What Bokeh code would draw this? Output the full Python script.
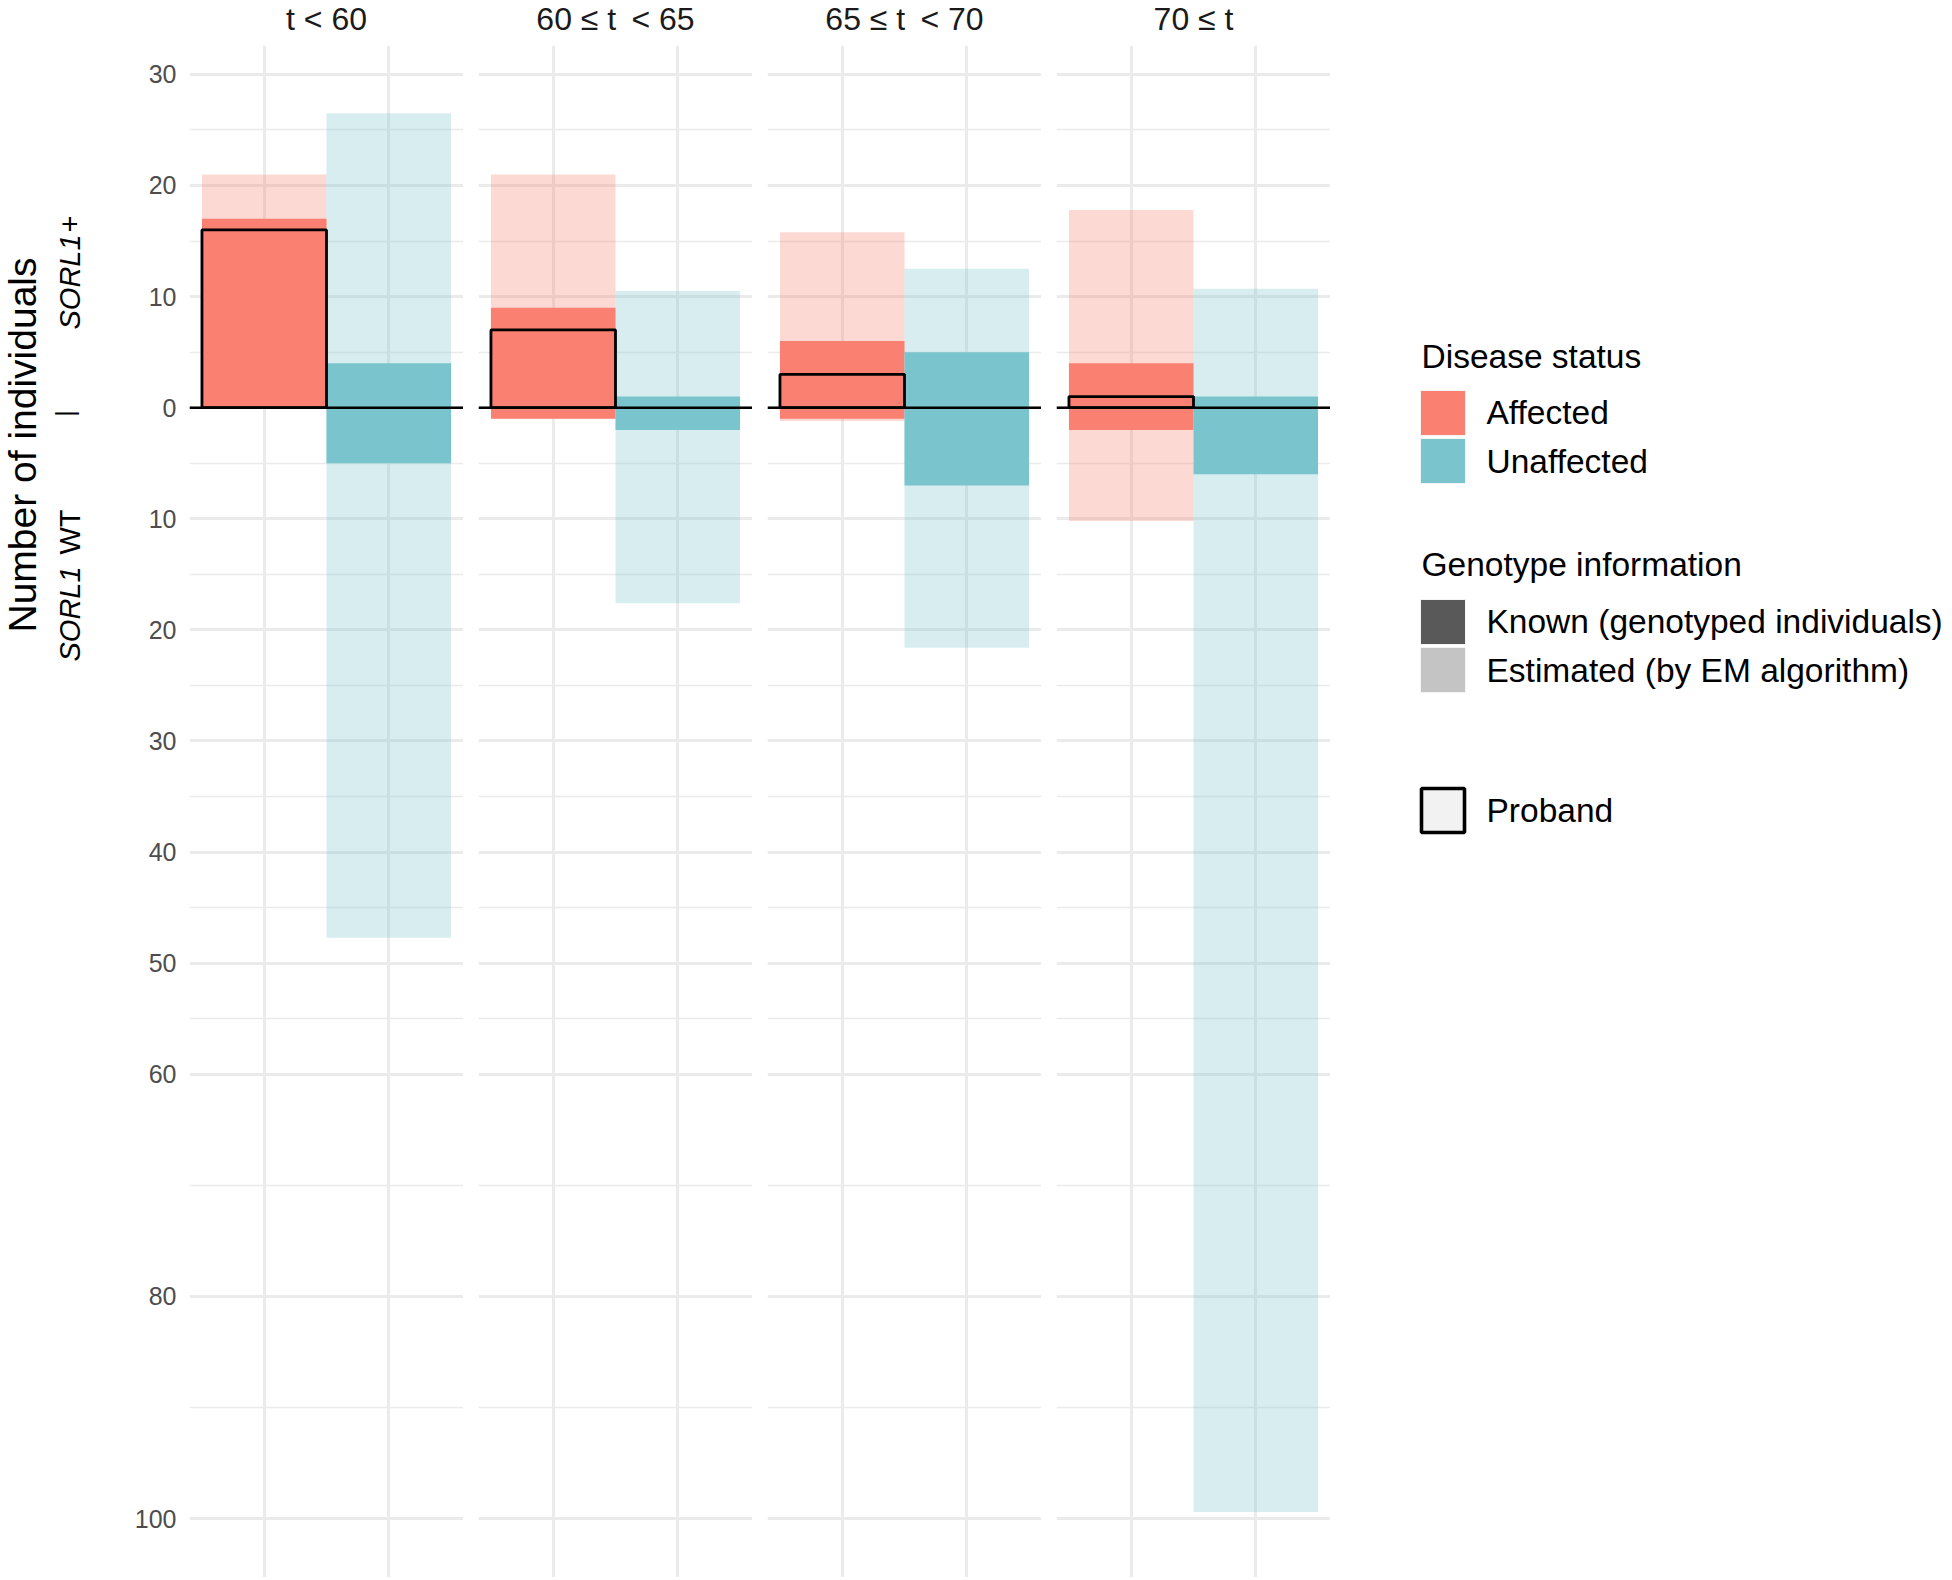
import math
from bokeh.plotting import figure
from bokeh.layouts import row, column
from bokeh.models import ColumnDataSource, FactorRange, Range1d, FixedTicker, Span, CategoricalTicker
from bokeh.core.properties import value
from bokeh.embed import file_html
from bokeh.resources import INLINE

# ---------------- data ----------------
age_groups = ["t < 60", "60 \u2264 t\u2009 < 65", "65 \u2264 t\u2009 < 70", "70 \u2264 t"]
status = ["Affected", "Unaffected"]

# known (genotyped individuals)
known_sorl1_affected = [17, 9, 6, 4]
known_wt_affected = [0, 1, 1, 2]
known_sorl1_unaffected = [4, 1, 5, 1]
known_wt_unaffected = [5, 2, 7, 6]

# estimated (by EM algorithm)
est_sorl1_affected = [21.0, 21.0, 15.8, 17.8]
est_wt_affected = [0.0, 1.0, 1.2, 10.2]
est_sorl1_unaffected = [26.5, 10.5, 12.5, 10.7]
est_wt_unaffected = [47.7, 17.6, 21.6, 99.4]

# probands (SORL1+ affected)
proband_affected = [16, 7, 3, 1]

status_colors = ["#FA8072", "#7AC5CD"]
major_ticks = [30, 20, 10, 0, -10, -20, -30, -40, -50, -60, -80, -100]
minor_ticks = [25, 15, 5, -5, -15, -25, -35, -45, -55, -70, -90]
tick_labels = {t: str(abs(t)) for t in major_ticks}

# ---------------- layout constants ----------------
FONT = "Liberation Sans"
PANEL_W, PANEL_H = 274, 1532
PX_PER_UNIT = 11.11
Y1 = 32.6
Y0 = Y1 - PANEL_H / PX_PER_UNIT
STRIP_H = 45
GAP = 15
LAB_W = 118
AXIS_W = 71
LEG_X0 = 1330
LEG_W = 620
GRID_COL = "#EBEBEB"
H_ALL = STRIP_H + PANEL_H


def blank(w, h, xr, yr, lb=0):
    f = figure(width=w, height=h, x_range=xr, y_range=yr,
               x_axis_location=None, y_axis_location=None,
               toolbar_location=None, output_backend="svg",
               min_border=0, min_border_left=lb, min_border_right=0,
               min_border_top=0, min_border_bottom=0)
    f.grid.visible = False
    f.outline_line_color = None
    f.background_fill_color = "white"
    f.border_fill_color = "white"
    return f


def make_panel(i):
    lb = AXIS_W if i == 0 else GAP
    p = figure(width=lb + PANEL_W, height=PANEL_H,
               x_range=FactorRange(factors=status, range_padding=0.1,
                                   range_padding_units="absolute"),
               y_range=Range1d(Y0, Y1),
               x_axis_location=None,
               y_axis_location="left" if i == 0 else None,
               toolbar_location=None, output_backend="svg",
               min_border=0, min_border_left=lb, min_border_right=0,
               min_border_top=0, min_border_bottom=0)
    p.outline_line_color = None
    p.background_fill_color = "white"
    p.border_fill_color = "white"
    p.xgrid.ticker = CategoricalTicker()
    p.xgrid.grid_line_color = GRID_COL
    p.xgrid.grid_line_width = 3
    p.ygrid.ticker = FixedTicker(ticks=major_ticks, minor_ticks=minor_ticks)
    p.ygrid.grid_line_color = GRID_COL
    p.ygrid.grid_line_width = 3
    p.ygrid.minor_grid_line_color = GRID_COL
    p.ygrid.minor_grid_line_width = 1.6
    if i == 0:
        ax = p.yaxis[0]
        ax.ticker = FixedTicker(ticks=major_ticks)
        ax.major_label_overrides = tick_labels
        ax.axis_line_color = None
        ax.major_tick_line_color = None
        ax.minor_tick_line_color = None
        ax.major_tick_out = 0
        ax.major_tick_in = 0
        ax.major_label_standoff = 13
        ax.major_label_text_font = FONT
        ax.major_label_text_font_size = "25px"
        ax.major_label_text_color = "#4D4D4D"

    src = ColumnDataSource(dict(
        status=status,
        est_pos=[est_sorl1_affected[i], est_sorl1_unaffected[i]],
        est_neg=[-est_wt_affected[i], -est_wt_unaffected[i]],
        known_pos=[known_sorl1_affected[i], known_sorl1_unaffected[i]],
        known_neg=[-known_wt_affected[i], -known_wt_unaffected[i]],
        color=status_colors,
    ))
    p.vbar(x="status", width=1.0, bottom=0, top="est_pos", fill_color="color",
           fill_alpha=0.3, line_color=None, source=src)
    p.vbar(x="status", width=1.0, bottom="est_neg", top=0, fill_color="color",
           fill_alpha=0.3, line_color=None, source=src)
    p.vbar(x="status", width=1.0, bottom=0, top="known_pos", fill_color="color",
           fill_alpha=1.0, line_color=None, source=src)
    p.vbar(x="status", width=1.0, bottom="known_neg", top=0, fill_color="color",
           fill_alpha=1.0, line_color=None, source=src)
    p.add_layout(Span(location=0, dimension="width", line_color="black", line_width=2.5))
    psrc = ColumnDataSource(dict(status=["Affected"], top=[proband_affected[i]]))
    p.vbar(x="status", width=1.0, bottom=0, top="top", fill_color=None,
           line_color="black", line_width=2.8, source=psrc, level="annotation")

    # facet strip, same left border so its frame lines up with the panel frame
    s = blank(lb + PANEL_W, STRIP_H, Range1d(0, PANEL_W), Range1d(0, STRIP_H), lb=lb)
    s.text(x=[PANEL_W / 2], y=[STRIP_H - 18], text=[age_groups[i]],
           text_align="center", text_baseline="middle",
           text_font=value(FONT), text_font_size="32px", text_color="#1A1A1A")
    return column(s, p)


# ---------------- left label strip (page coordinates) ----------------
lab = blank(LAB_W, H_ALL, Range1d(0, LAB_W), Range1d(-H_ALL, 0))
rot = math.pi / 2
lab.text(x=[22], y=[-444.5], text=["Number of individuals"], angle=rot,
         text_align="center", text_baseline="middle",
         text_font=value(FONT), text_font_size="39px", text_color="black")
lab.text(x=[69, 69], y=[-329, -661], text=["SORL1", "SORL1"], angle=rot,
         text_align="left", text_baseline="middle", text_font_style="italic",
         text_font=value(FONT), text_font_size="29px", text_color="black")
lab.text(x=[69, 69], y=[-215, -509], text=["+", "WT"], angle=rot,
         text_align="right", text_baseline="middle",
         text_font=value(FONT), text_font_size="29px", text_color="black")
lab.text(x=[64], y=[-413], text=["|"], angle=rot,
         text_align="center", text_baseline="middle",
         text_font=value(FONT), text_font_size="25px", text_color="black")

# ---------------- legend (page coordinates) ----------------
leg = blank(LEG_W, H_ALL, Range1d(LEG_X0, LEG_X0 + LEG_W), Range1d(-H_ALL, 0))
leg.text(x=[1421, 1421], y=[-355.5, -564],
         text=["Disease status", "Genotype information"],
         text_align="left", text_baseline="middle",
         text_font=value(FONT), text_font_size="33.5px", text_color="black")
key_tops = [390, 438, 599, 647]
key_cols = ["#FA8072", "#7AC5CD", "#595959", "#C4C4C4"]
leg.quad(left=[1420] * 4, right=[1465] * 4,
         top=[-t for t in key_tops], bottom=[-(t + 45) for t in key_tops],
         fill_color=key_cols, line_color="#F4F4F4", line_width=1)
leg.quad(left=[1421], right=[1464], top=[-788], bottom=[-832],
         fill_color="#F2F2F2", line_color="black", line_width=3.6)
leg.text(x=[1486] * 5, y=[-412, -461, -621, -670, -810],
         text=["Affected", "Unaffected", "Known (genotyped individuals)",
               "Estimated (by EM algorithm)", "Proband"],
         text_align="left", text_baseline="middle",
         text_font=value(FONT), text_font_size="33.5px", text_color="black")

layout = row(lab, *[make_panel(i) for i in range(4)], leg)

open("out.html", "w").write(file_html(layout, INLINE, "SORL1 pedigree counts"))
